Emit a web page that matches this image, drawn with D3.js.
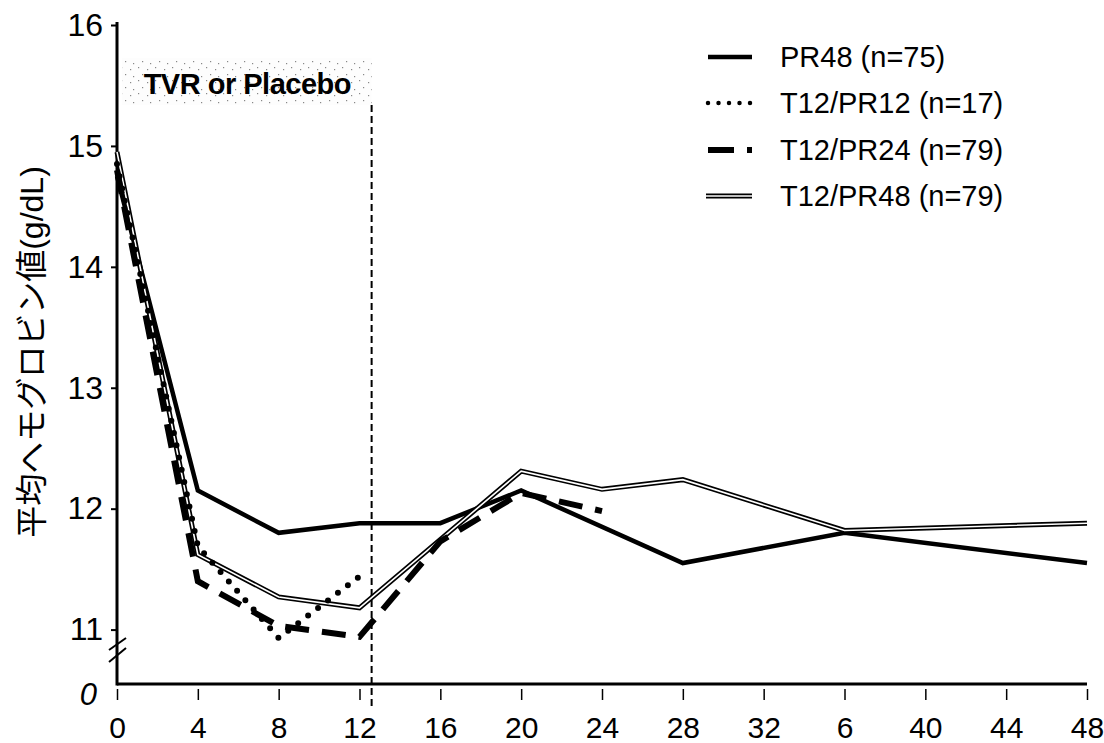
<!DOCTYPE html>
<html>
<head>
<meta charset="utf-8">
<script src="https://cdn.jsdelivr.net/npm/d3@7"></script>
<style>
html,body{margin:0;padding:0;background:#fff;}
svg{display:block;}
text{font-family:"Liberation Sans",Arial,"Noto Sans CJK JP",sans-serif;fill:#000;}
</style>
</head>
<body>
<svg id="chart" width="1104" height="743"></svg>
<script>
// ---- data ----
const xTickValues = [0, 4, 8, 12, 16, 20, 24, 28, 32, 36, 40, 44, 48];
const xTickLabels = ["0", "4", "8", "12", "16", "20", "24", "28", "32", "6", "40", "44", "48"];
const yTickValues = [11, 12, 13, 14, 15, 16];
const yBreakLabel = "0";
const seriesNames = ["PR48 (n=75)", "T12/PR12 (n=17)", "T12/PR24 (n=79)", "T12/PR48 (n=79)"];
const pr48 =     [[0,14.75],[4,12.15],[8,11.80],[12,11.88],[16,11.88],[20,12.15],[28,11.55],[36,11.80],[48,11.55]];
const t12pr12 =  [[0,14.85],[4,11.69],[8,10.93],[12,11.44]];
const t12pr24 =  [[0,14.80],[4,11.40],[8,11.03],[12,10.94],[16,11.73],[20,12.13],[24,11.98]];
const t12pr48 =  [[0,14.95],[4,11.62],[8,11.27],[12,11.18],[20,12.31],[24,12.16],[28,12.24],[36,11.82],[48,11.88]];
const boxLabel = "TVR or Placebo";
const boxEndWeek = 12.6;
const yAxisTitle = "平均ヘモグロビン値(g/dL)";

// ---- scales ----
const svg = d3.select("#chart");
const x = d3.scaleLinear().domain([0, 48]).range([117, 1087]);
const yBase = 10.55; // value at the axis baseline (broken axis)
const y = d3.scaleLinear().domain([yBase, 16]).range([684, 25]);

// stipple pattern for the treatment box
const defs = svg.append("defs");
const pat = defs.append("pattern").attr("id","stip").attr("patternUnits","userSpaceOnUse")
  .attr("width",17).attr("height",13);
pat.append("rect").attr("width",17).attr("height",13).attr("fill","#fdfdfd");
[[2,2],[11,4],[6,9],[14,11]].forEach(p=>{
  pat.append("rect").attr("x",p[0]).attr("y",p[1]).attr("width",1.2).attr("height",1.2).attr("fill","#888");
});

// treatment box
const boxTop = 58, boxBottom = 105;
svg.append("rect").attr("x", x(0)+5).attr("y", boxTop)
  .attr("width", x(boxEndWeek) - x(0) - 5).attr("height", boxBottom - boxTop)
  .attr("fill", "url(#stip)");
svg.append("text").attr("x", (x(0)+x(boxEndWeek))/2 + 3).attr("y", 94)
  .attr("text-anchor","middle").attr("font-size", 29).attr("font-weight","bold")
  .attr("letter-spacing", -0.5)
  .text(boxLabel);

// vertical dashed line at end of treatment
svg.append("line").attr("x1", x(boxEndWeek)).attr("x2", x(boxEndWeek))
  .attr("y1", boxBottom).attr("y2", 706)
  .attr("stroke","#000").attr("stroke-width",2).attr("stroke-dasharray","7,4");

// ---- axes ----
// x axis
const xAxis = d3.axisBottom(x).tickValues(xTickValues)
  .tickFormat((d,i)=>xTickLabels[i]).tickSizeOuter(0).tickSize(11).tickPadding(17);
const gx = svg.append("g").attr("transform","translate(0,689)").call(xAxis);
gx.select(".domain").remove();
gx.selectAll(".tick line").attr("stroke","#000").attr("stroke-width",1.5);
gx.selectAll(".tick text").attr("font-size",30).attr("font-family","Liberation Sans, Arial, sans-serif");
svg.append("line").attr("x1", x(0)).attr("x2", x(48)).attr("y1", y(yBase)).attr("y2", y(yBase))
  .attr("stroke","#000").attr("stroke-width",3);

// y axis
const yAxis = d3.axisLeft(y).tickValues(yTickValues).tickFormat(d3.format("d"))
  .tickSizeOuter(0).tickSize(6).tickPadding(8);
const gy = svg.append("g").attr("transform",`translate(${x(0)},0)`).call(yAxis);
gy.select(".domain").remove();
gy.selectAll(".tick line").attr("stroke","#000").attr("stroke-width",2);
gy.selectAll(".tick text").attr("font-size",32).attr("font-family","Liberation Sans, Arial, sans-serif");
svg.append("line").attr("x1", x(0)).attr("x2", x(0)).attr("y1", y(16)-3).attr("y2", y(yBase)+1.5)
  .attr("stroke","#000").attr("stroke-width",3);
// break marks
[[650,638],[662,648]].forEach(b=>{
  svg.append("line").attr("x1", x(0)-8).attr("y1", b[0]).attr("x2", x(0)+9).attr("y2", b[1])
    .attr("stroke","#000").attr("stroke-width",2);
});
// "0" at baseline
svg.append("text").attr("x", 97).attr("y", y(yBase)+10).attr("dy","0.35em")
  .attr("text-anchor","end").attr("font-size",31).attr("font-style","italic").text(yBreakLabel);

// y axis title
svg.append("text").attr("transform","translate(43,352) rotate(-90)")
  .attr("text-anchor","middle").attr("font-size",32)
  .attr("font-family","Liberation Sans, Noto Sans CJK JP, sans-serif")
  .text(yAxisTitle);

// ---- lines ----
const line = d3.line().x(d=>x(d[0])).y(d=>y(d[1]));
const g = svg.append("g").attr("fill","none");
// PR48 solid
g.append("path").datum(pr48).attr("d", line).attr("stroke","#000").attr("stroke-width",4.5);
// T12/PR48 double line
g.append("path").datum(t12pr48).attr("d", line).attr("stroke","#000").attr("stroke-width",5);
g.append("path").datum(t12pr48).attr("d", line).attr("stroke","#fff").attr("stroke-width",1.6);
// T12/PR24 dashed
g.append("path").datum(t12pr24).attr("d", line).attr("stroke","#000").attr("stroke-width",6)
  .attr("stroke-dasharray","24,13");
// T12/PR12 dotted
g.append("path").datum(t12pr12).attr("d", line).attr("stroke","#000").attr("stroke-width",6)
  .attr("stroke-linecap","round").attr("stroke-dasharray","0,12.5");

// ---- legend ----
const legY = [57, 103, 150, 196];
const lx1 = 708, lx2 = 752, ltx = 780;
const lg = svg.append("g");
lg.append("line").attr("x1",lx1).attr("x2",lx2).attr("y1",legY[0]).attr("y2",legY[0])
  .attr("stroke","#000").attr("stroke-width",4.5);
lg.append("line").attr("x1",lx1).attr("x2",lx2).attr("y1",legY[1]).attr("y2",legY[1])
  .attr("stroke","#000").attr("stroke-width",4.5).attr("stroke-linecap","round").attr("stroke-dasharray","0,10.5");
lg.append("line").attr("x1",lx1).attr("x2",lx2).attr("y1",legY[2]).attr("y2",legY[2])
  .attr("stroke","#000").attr("stroke-width",6).attr("stroke-dasharray","26,13,6,20");
lg.append("line").attr("x1",lx1-2).attr("x2",lx2).attr("y1",legY[3]).attr("y2",legY[3])
  .attr("stroke","#000").attr("stroke-width",5);
lg.append("line").attr("x1",lx1-2).attr("x2",lx2).attr("y1",legY[3]).attr("y2",legY[3])
  .attr("stroke","#fff").attr("stroke-width",1.6);
seriesNames.forEach((n,i)=>{
  lg.append("text").attr("x", ltx).attr("y", legY[i]).attr("dy","0.35em")
    .attr("font-size",29).text(n);
});
</script>
</body>
</html>
